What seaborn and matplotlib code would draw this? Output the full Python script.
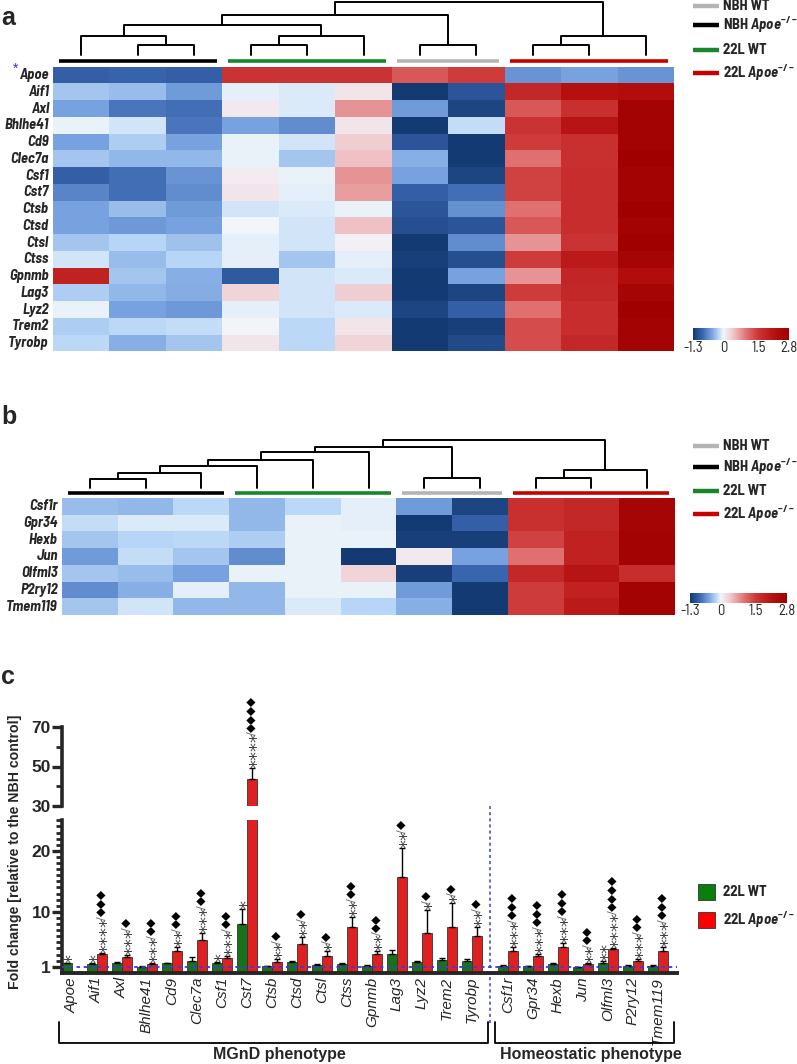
import numpy as np
import pandas as pd
import matplotlib
matplotlib.use("Agg")
import matplotlib.pyplot as plt
import seaborn as sns
from matplotlib.colors import LinearSegmentedColormap
from matplotlib.patches import Rectangle

W, H = 797, 1064

# ---------------- heatmap data (z-scores) ----------------
group_labels = ["NBH WT", "NBH $\\mathit{Apoe}^{-/-}$", "22L WT", "22L $\\mathit{Apoe}^{-/-}$"]
group_colors = ["#b4b4b4", "#000000", "#16872a", "#c80000"]
# clustered column order: NBH Apoe-/-, 22L WT, NBH WT, 22L Apoe-/-
col_group_idx = [1, 2, 0, 3]
col_group_sizes = [3, 3, 2, 3]

genes_a = ["Apoe", "Aif1", "Axl", "Bhlhe41", "Cd9", "Clec7a", "Csf1", "Cst7", "Ctsb",
           "Ctsd", "Ctsl", "Ctss", "Gpnmb", "Lag3", "Lyz2", "Trem2", "Tyrobp"]
heat_a = [
    [-0.95, -0.92, -0.95, 1.55, 1.55, 1.55, 1.2, 1.45, -0.6, -0.5, -0.6],
    [-0.3, -0.35, -0.55, -0.05, -0.08, 0.15, -1.3, -1.05, 1.75, 2.2, 2.3],
    [-0.5, -0.8, -0.85, 0.12, -0.08, 0.75, -0.55, -1.2, 1.2, 1.6, 2.7],
    [-0.03, -0.1, -0.8, -0.5, -0.65, 0.15, -1.3, -0.15, 1.55, 2.1, 2.7],
    [-0.5, -0.25, -0.5, -0.02, -0.1, 0.35, -1.05, -1.3, 1.45, 1.6, 2.7],
    [-0.3, -0.38, -0.38, -0.02, -0.3, 0.45, -0.42, -1.3, 1.0, 1.6, 2.8],
    [-0.95, -0.85, -0.6, 0.08, -0.02, 0.75, -0.5, -1.2, 1.4, 1.65, 2.7],
    [-0.7, -0.85, -0.65, 0.15, -0.05, 0.7, -0.95, -0.85, 1.4, 1.65, 2.7],
    [-0.5, -0.35, -0.55, -0.1, -0.08, -0.02, -1.05, -0.62, 1.0, 1.65, 2.8],
    [-0.5, -0.57, -0.5, 0.0, -0.1, 0.45, -1.1, -1.05, 1.2, 1.65, 2.7],
    [-0.3, -0.2, -0.32, -0.04, -0.1, 0.05, -1.3, -0.65, 0.75, 1.55, 2.8],
    [-0.1, -0.35, -0.2, -0.04, -0.3, -0.05, -1.25, -1.1, 1.45, 2.0, 2.6],
    [1.85, -0.3, -0.42, -1.0, -0.1, -0.08, -1.3, -0.5, 0.75, 1.8, 2.3],
    [-0.25, -0.38, -0.45, 0.3, -0.1, 0.35, -1.3, -1.2, 1.45, 1.75, 2.6],
    [-0.02, -0.5, -0.57, -0.04, -0.1, -0.08, -1.2, -0.95, 1.0, 1.65, 2.8],
    [-0.25, -0.18, -0.15, 0.02, -0.18, 0.15, -1.3, -1.25, 1.3, 1.65, 2.7],
    [-0.18, -0.42, -0.3, 0.15, -0.18, 0.3, -1.3, -1.15, 1.3, 1.75, 2.7],
]
# sample dendrogram: (left, right, merge height); leaves are column indices
dendro_a = ((((0, (1, 2, 10), 19), ((3, 4, 10), 5, 19), 30), (6, 7, 10), 40),
            ((8, 9, 10), 10, 19), 53)

genes_b = ["Csf1r", "Gpr34", "Hexb", "Jun", "Olfml3", "P2ry12", "Tmem119"]
heat_b = [
    [-0.35, -0.38, -0.18, -0.38, -0.18, -0.05, -0.55, -1.2, 1.6, 1.75, 2.6],
    [-0.15, -0.08, -0.08, -0.38, -0.02, -0.05, -1.3, -0.95, 1.6, 1.75, 2.6],
    [-0.3, -0.2, -0.18, -0.25, -0.03, -0.02, -1.25, -1.25, 1.4, 1.85, 2.7],
    [-0.55, -0.15, -0.3, -0.65, -0.03, -1.3, 0.12, -0.5, 1.0, 1.85, 2.7],
    [-0.3, -0.35, -0.5, -0.02, -0.02, 0.3, -1.25, -0.9, 1.75, 2.1, 1.65],
    [-0.65, -0.42, -0.05, -0.38, -0.03, -0.02, -0.55, -1.3, 1.45, 1.85, 2.7],
    [-0.3, -0.1, -0.38, -0.38, -0.08, -0.2, -0.42, -1.3, 1.45, 2.0, 2.7],
]
dendro_b = (((((((0, 1, 9), 2, 15), 3, 22), 4, 28), 5, 36), (6, 7, 10), 41),
            ((8, 9, 10), 10, 18), 48)

cbar_ticks = [-1.3, 0, 1.5, 2.8]

# ---------------- bar chart data (fold change vs NBH) ----------------
genes_mgnd = ["Apoe", "Aif1", "Axl", "Bhlhe41", "Cd9", "Clec7a", "Csf1", "Cst7", "Ctsb",
              "Ctsd", "Ctsl", "Ctss", "Gpnmb", "Lag3", "Lyz2", "Trem2", "Tyrobp"]
genes_homeo = ["Csf1r", "Gpr34", "Hexb", "Jun", "Olfml3", "P2ry12", "Tmem119"]
wt_mean = [1.55, 1.44, 1.66, 1.0, 1.55, 1.98, 1.55, 7.93, 1.11, 1.71, 1.28, 1.44, 1.11,
           3.03, 1.82, 2.1, 1.98, 1.17, 1.06, 1.39, 0.9, 1.66, 1.11, 1.11]
wt_err = [0.1, 0.1, 0.15, 0.05, 0.1, 0.55, 0.15, 2.5, 0.05, 0.2, 0.1, 0.2, 0.15,
          0.7, 0.1, 0.25, 0.25, 0.1, 0.1, 0.15, 0.05, 0.25, 0.1, 0.1]
ko_mean = [np.nan, 3.08, 2.64, 1.44, 3.57, 5.37, 2.48, 43.5, 1.82, 4.71, 2.75, 7.55, 3.08,
           15.7, 6.46, 7.44, 6.08, 3.62, 2.75, 4.17, 1.39, 3.84, 1.93, 3.62]
ko_err = [0, 0.15, 0.25, 0.1, 0.6, 1.2, 0.27, 5.5, 0.38, 1.2, 0.87, 1.63, 0.54,
          4.7, 3.84, 4.06, 1.47, 0.55, 0.35, 0.66, 0.2, 0.3, 0.3, 0.55]
wt_stars = [1, 1, 0, 0, 0, 0, 1, 1, 0, 0, 0, 0, 0, 0, 0, 0, 0, 0, 0, 0, 0, 2, 0, 0]
ko_stars = [0, 4, 3, 3, 2, 3, 3, 4, 2, 2, 1, 2, 2, 2, 1, 1, 2, 3, 3, 3, 2, 4, 3, 3]
ko_diamonds = [0, 3, 1, 2, 2, 2, 2, 4, 1, 1, 1, 2, 2, 1, 1, 1, 1, 3, 3, 3, 2, 4, 2, 3]

bar_groups = ["22L WT", "22L Apoe-/-"]
bar_colors = ["#0b7f0b", "#ff0000"]

NARROW = ["Barlow Semi Condensed", "Archivo Narrow", "Liberation Sans", "DejaVu Sans"]


def rect(x0, y0, x1, y1):
    # pixel box -> figure fraction
    return [x0 / W, 1 - y1 / H, (x1 - x0) / W, (y1 - y0) / H]


def draw_dendrogram(ax, node):
    if not isinstance(node, tuple):
        return node + 0.5, 0.0
    left, right, height = node
    xl, hl = draw_dendrogram(ax, left)
    xr, hr = draw_dendrogram(ax, right)
    ax.plot([xl, xl, xr, xr], [hl, height, height, hr], color="black", lw=1.4)
    return (xl + xr) / 2, height


def group_bars(ax, y):
    start = 0
    for gi, n in zip(col_group_idx, col_group_sizes):
        ax.plot([start + 0.1, start + n - 0.1], [y, y], color=group_colors[gi],
                lw=2.6, solid_capstyle="butt")
        start += n


def heat_panel(fig, genes, values, tree, hm_box, dendro_box, dendro_ylim, bar_y, cbar_box):
    cmap = LinearSegmentedColormap.from_list("bwr_custom", [
        (0.0, "#133a73"), (0.4 / 4.1, "#3a66b0"), (0.8 / 4.1, "#7aa4e0"),
        (1.1 / 4.1, "#b8d6f6"), (1.3 / 4.1, "#f2f6fa"), (1.7 / 4.1, "#f0c8cc"),
        (2.3 / 4.1, "#e07070"), (2.8 / 4.1, "#cc3535"), (3.5 / 4.1, "#b41010"),
        (1.0, "#a00000")])
    ax = fig.add_axes(rect(*hm_box))
    cax = fig.add_axes(rect(*cbar_box))
    df = pd.DataFrame(values, index=genes)
    sns.heatmap(df, ax=ax, cmap=cmap, vmin=-1.3, vmax=2.8, cbar_ax=cax,
                cbar_kws={"orientation": "horizontal", "ticks": cbar_ticks},
                xticklabels=False, yticklabels=True)
    ax.tick_params(axis="y", length=0, pad=3)
    for lab in ax.get_yticklabels():
        lab.set(rotation=0, fontstyle="italic", fontweight="bold", fontsize=10.5, family=NARROW)
    cbar = ax.collections[0].colorbar
    cbar.outline.set_visible(False)
    cax.tick_params(length=0, pad=1)
    cax.set_xticklabels(["-1.3", "0", "1.5", "2.8"], fontsize=10.5, family=NARROW)

    dax = fig.add_axes(rect(*dendro_box))
    draw_dendrogram(dax, tree)
    group_bars(dax, bar_y)
    dax.set_xlim(0, len(values[0]))
    dax.set_ylim(*dendro_ylim)
    dax.axis("off")
    return ax


def main():
    sns.set_theme(style="white")
    plt.rcParams["font.family"] = ["Liberation Sans", "DejaVu Sans"]
    plt.rcParams["mathtext.fontset"] = "custom"
    plt.rcParams["mathtext.it"] = "Barlow Semi Condensed:italic:bold"
    plt.rcParams["mathtext.rm"] = "Barlow Semi Condensed:bold"
    plt.rcParams["mathtext.bf"] = "Barlow Semi Condensed:bold"

    fig = plt.figure(figsize=(W / 100, H / 100), dpi=100)

    # ---- panel a ----
    heat_panel(fig, genes_a, heat_a, dendro_a, (53, 66.7, 674, 351.5),
               (53, 0, 674, 66.7), (-11.7, 55), -6, (693, 328, 789, 340))
    # ---- panel b ----
    heat_panel(fig, genes_b, heat_b, dendro_b, (62, 498, 675, 615),
               (62, 430, 675, 498), (-10, 58), -5, (690, 593, 787, 603))

    # ---- panel c: broken y axis ----
    pos = list(range(len(genes_mgnd))) + [len(genes_mgnd) + 0.44 + j for j in range(len(genes_homeo))]
    genes_c = genes_mgnd + genes_homeo
    df_c = pd.DataFrame({
        "pos": pos * 2,
        "group": [bar_groups[0]] * len(pos) + [bar_groups[1]] * len(pos),
        "value": wt_mean + ko_mean,
    }).dropna()

    ax_lo = fig.add_axes(rect(62, 820.3, 677, 972.8))
    ax_hi = fig.add_axes(rect(62, 688, 677, 806))
    for ax in (ax_lo, ax_hi):
        sns.barplot(data=df_c, x="pos", y="value", hue="group", hue_order=bar_groups,
                    native_scale=True, palette=bar_colors, errorbar=None, width=0.8,
                    edgecolor="#333333", linewidth=0.6, legend=False, ax=ax)
        xs_wt = np.array(pos) - 0.2
        xs_ko = np.array(pos) + 0.2
        ax.errorbar(xs_wt, wt_mean, yerr=[np.zeros(len(pos)), wt_err], fmt="none",
                    ecolor="black", elinewidth=1, capsize=2.2, capthick=1)
        ko_ok = ~np.isnan(ko_mean)
        ax.errorbar(xs_ko[ko_ok], np.array(ko_mean)[ko_ok],
                    yerr=[np.zeros(ko_ok.sum()), np.array(ko_err)[ko_ok]], fmt="none",
                    ecolor="black", elinewidth=1, capsize=2.2, capthick=1)
        ax.set_xlim(-0.4, pos[-1] + 0.76)
        ax.set_xlabel("")
        ax.set_ylabel("")
        for sp in ("top", "right"):
            ax.spines[sp].set_visible(False)
        ax.spines["left"].set_linewidth(2.6)
        ax.tick_params(axis="y", which="major", direction="out", length=7, width=2.4,
                       labelsize=12.5, pad=1, left=True)
        ax.tick_params(axis="y", which="minor", direction="out", length=4, width=2.0, left=True)

    ax_lo.set_ylim(0, 25)
    ax_lo.set_yticks([1, 10, 20])
    ax_lo.set_yticks([v for v in range(2, 26) if v not in (10, 20)], minor=True)
    ax_lo.spines["bottom"].set_linewidth(2.8)
    ax_lo.set_xticks(pos)
    ax_lo.set_xticklabels(genes_c, rotation=90, fontstyle="italic", fontsize=11)
    ax_lo.tick_params(axis="x", length=0, pad=3)
    ax_lo.axhline(1, color="#3a3ae0", lw=1.3, ls=(0, (2, 2)), zorder=5)

    ax_hi.set_ylim(30, 30 + 118 / 1.975)
    ax_hi.spines["left"].set_bounds(30, 70)
    ax_hi.spines["bottom"].set_visible(False)
    ax_hi.set_yticks([30, 50, 70])
    ax_hi.set_yticks([40, 60], minor=True)
    ax_hi.set_xticks([])
    for ax in (ax_lo, ax_hi):
        for lab in ax.get_yticklabels():
            lab.set_fontweight("bold")

    # vertical separator between gene groups
    sep = (pos[len(genes_mgnd) - 1] + pos[len(genes_mgnd)]) / 2
    ax_lo.plot([sep, sep], [-8.2, 39.3], color="#3a3ae0", lw=1.1, ls=(0, (2, 2)), clip_on=False)

    # significance marks: stars, slash, diamonds stacked above the error bar
    def mark(x, top, stars, diamonds):
        ax = ax_hi if top > 25 else ax_lo
        t = ax.annotate("*" * stars, xy=(x, top), xytext=(4.0, 0), textcoords="offset points",
                        rotation=90, ha="center", va="bottom", fontsize=13,
                        family="DejaVu Sans", color="#444444")
        if diamonds:
            s = ax.annotate("/", xy=(0.5, 1), xycoords=t, xytext=(-4.0, -2),
                            textcoords="offset points", rotation=90, ha="center",
                            va="bottom", fontsize=8, family="DejaVu Sans", color="#666666")
            ax.annotate("\u25c6" * diamonds, xy=(0.5, 1), xycoords=s, xytext=(0, 0),
                        textcoords="offset points", rotation=90, ha="center", va="bottom",
                        fontsize=8.5, family="DejaVu Sans", color="black")

    for i, x in enumerate(pos):
        if wt_stars[i]:
            mark(x - 0.2, wt_mean[i] + wt_err[i], wt_stars[i], 0)
        if ko_stars[i]:
            mark(x + 0.2, ko_mean[i] + ko_err[i], ko_stars[i], ko_diamonds[i])

    # phenotype brackets
    n1 = len(genes_mgnd)
    for lo, hi, name in [(pos[0], pos[n1 - 1], "MGnD phenotype"),
                         (pos[n1], pos[-1], "Homeostatic phenotype")]:
        ax_lo.plot([lo - 0.52, lo - 0.52, hi + 0.62, hi + 0.62], [-8.1, -11.5, -11.5, -8.1],
                   color="black", lw=1.3, clip_on=False)
        ax_lo.text((lo + hi) / 2 + 0.3, -13.4, name, ha="center", va="center",
                   fontsize=11.5, fontweight="bold")

    # ---- overlay for letters, legends and axis title (pixel coords) ----
    ov = fig.add_axes([0, 0, 1, 1])
    ov.set_xlim(0, W)
    ov.set_ylim(H, 0)
    ov.axis("off")
    for letter, y in [("a", 18), ("b", 417), ("c", 677)]:
        ov.text(1, y, letter, fontsize=18, fontweight="bold", va="center", ha="left")
    ov.text(16, 69, "*", color="#2a2aff", fontsize=10, ha="center", va="center")

    for ys in ([6, 25, 50, 73], [446, 467, 491, 514]):
        for y, lab, c in zip(ys, group_labels, group_colors):
            ov.plot([693, 719], [y, y], color=c, lw=3.2, solid_capstyle="butt")
            ov.text(723, y, lab, fontsize=10.5, fontweight="bold", va="center", ha="left",
                    family=NARROW)

    leg_labels = ["22L WT", "22L $\\mathit{Apoe}^{-/-}$"]
    for y, lab, c in zip([892, 920], leg_labels, bar_colors):
        ov.add_patch(Rectangle((698, y - 8), 17, 16, facecolor=c, edgecolor="#333333", lw=0.6))
        ov.text(723, y, lab, fontsize=10.5, fontweight="bold", va="center", ha="left",
                family=NARROW)

    ov.text(15, 852, "Fold change [relative to the NBH control]", rotation=90,
            fontsize=10.2, fontweight="bold", ha="center", va="center")

    fig.savefig("out.png", dpi=100)
    plt.close(fig)


if __name__ == "__main__":
    main()
